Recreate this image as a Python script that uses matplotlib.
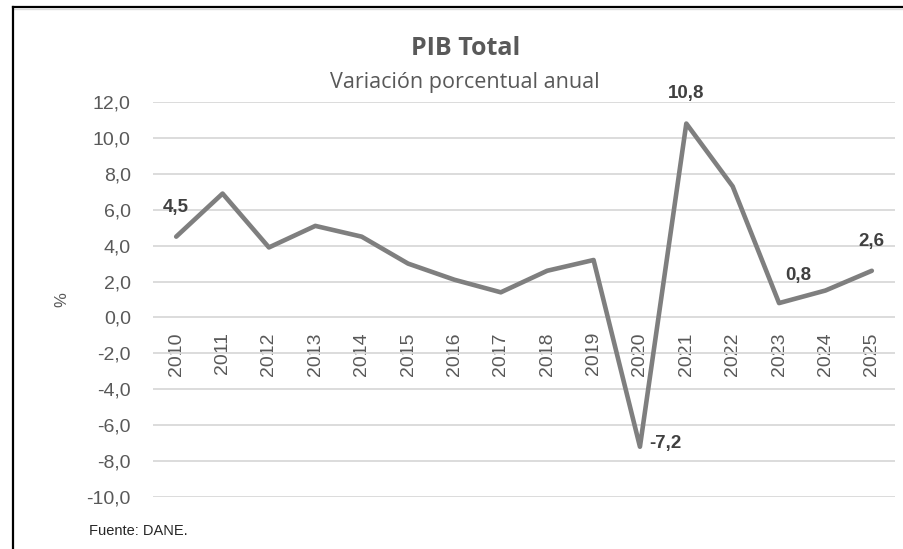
#line chart - PIB Total, variacion porcentual anual
import matplotlib
matplotlib.use("Agg")
import matplotlib.pyplot as plt
from matplotlib.lines import Line2D

years = ["2010", "2011", "2012", "2013", "2014", "2015", "2016", "2017",
         "2018", "2019", "2020", "2021", "2022", "2023", "2024", "2025"]
pib = [4.5, 6.9, 3.9, 5.1, 4.5, 3.0, 2.1, 1.4, 2.6, 3.2, -7.2, 10.8, 7.3, 0.8, 1.5, 2.6]
yticks = [-10, -8, -6, -4, -2, 0, 2, 4, 6, 8, 10, 12]
# which points get a label and where (offset in pixels from the point)
label_years = ["2010", "2020", "2021", "2023", "2025"]
label_offsets = [(0, 29), (9, 3), (0, 30), (19, 28), (0, 29)]
label_align = ["center", "left", "center", "center", "center"]

W, H = 904, 549
my_dpi = 100
fig = plt.figure(figsize=(W / my_dpi, H / my_dpi), dpi=my_dpi)
fig.patch.set_facecolor("white")

ax = fig.add_axes([153 / W, 1 - 497 / H, (895 - 153) / W, (497 - 102) / H])
x = list(range(len(years)))
ax.plot(x, pib, color="#7f7f7f", linewidth=3.3, solid_joinstyle="round",
        solid_capstyle="round", zorder=3)

ax.set_xlim(-0.5, len(years) - 0.5)
ax.set_ylim(yticks[0], yticks[-1])
ax.set_yticks(yticks)
ax.set_yticklabels([f"{v:.1f}".replace(".", ",") for v in yticks],
                   fontsize=14, color="#595959", family="Liberation Sans")
ax.tick_params(axis="y", length=0, pad=16)
ax.yaxis.grid(True, color="#d9d9d9", linewidth=1.3)
ax.set_axisbelow(True)

# category labels hang just under the zero line, like excel
ax.spines["bottom"].set_position(("data", 0))
ax.set_xticks(x)
ax.set_xticklabels(years, rotation=90, fontsize=14, color="#595959",
                   family="Liberation Sans")
ax.tick_params(axis="x", length=0, pad=10.5)
for s in ["top", "right", "left", "bottom"]:
    ax.spines[s].set_visible(False)

for yr, off, ha in zip(label_years, label_offsets, label_align):
    i = years.index(yr)
    v = pib[i]
    ax.annotate(f"{v:.1f}".replace(".", ","), (i, v), xytext=off,
                textcoords="offset pixels", ha=ha, va="center",
                fontsize=13.5, fontweight="bold", color="#404040",
                family="Liberation Sans", zorder=4)

fig.text(466 / W, 1 - 55 / H, "PIB Total", ha="center", va="baseline",
         fontsize=18, fontweight="bold", color="#595959", family="Open Sans")
fig.text(465 / W, 1 - 88 / H, "Variación porcentual anual", ha="center",
         va="baseline", fontsize=15.5, color="#595959", family="Open Sans")
fig.text(62 / W, 1 - 300 / H, "%", rotation=90, ha="center", va="center",
         fontsize=12, color="#595959", family="Liberation Sans")
fig.text(89 / W, 1 - 531 / H, "Fuente: DANE.", ha="left", va="center",
         fontsize=10.5, color="#262626", family="Liberation Sans")

# chart border (top and left only are visible in the crop)
fig.add_artist(Line2D([13 / W, 1], [1 - 7 / H, 1 - 7 / H], color="black",
                      linewidth=1.6, transform=fig.transFigure))
fig.add_artist(Line2D([14 / W, 1], [1 - 9 / H, 1 - 9 / H], color="#dcdcdc",
                      linewidth=1.0, transform=fig.transFigure))
fig.add_artist(Line2D([13 / W, 13 / W], [0, 1 - 7 / H], color="black",
                      linewidth=1.6, transform=fig.transFigure))

fig.savefig("out.png", dpi=my_dpi, facecolor="white")
